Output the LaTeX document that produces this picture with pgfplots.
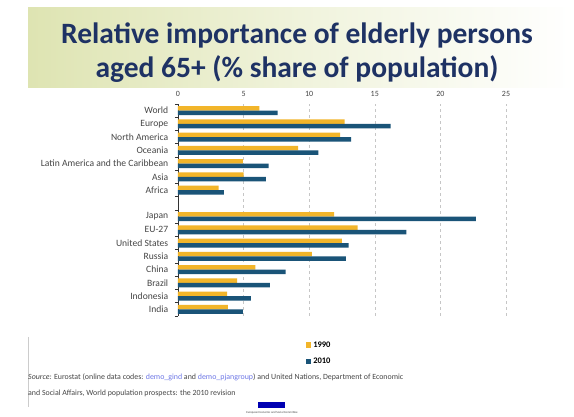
\documentclass[border=0pt]{standalone}
\usepackage{pgfplots}
\pgfplotsset{compat=1.18}
\usepackage{fontspec}
\setmainfont{Carlito}
\definecolor{yel}{RGB}{242,181,42}
\definecolor{blu}{RGB}{26,84,120}
\definecolor{navy}{RGB}{30,50,100}
\definecolor{lab}{RGB}{70,70,70}
\definecolor{lnk}{RGB}{110,120,230}
\begin{document}
\begin{tikzpicture}[x=1pt,y=1pt]
\path[use as bounding box] (0,0) rectangle (574,417);
\fill[white] (0,0) rectangle (574,417);
\shade[left color={rgb,255:red,222;green,228;blue,178}, right color=white, middle color={rgb,255:red,240;green,243;blue,220}] (28,329) rectangle (574,409);
\fill[white] (0,0) rectangle (574,329);
\draw[gray!40] (28,80) -- (28,10);
\node[font=\fontsize{29.5}{34}\selectfont\bfseries, text=navy, align=center] at (297,364) {Relative importance of elderly persons\\aged 65+ (\% share of population)};
\begin{axis}[
  at={(178pt,101pt)}, anchor=south west,
  scale only axis, width=328pt, height=212pt,
  xbar, xmin=0, xmax=25, ymin=0.5, ymax=16.5,
  axis x line*=top, axis y line*=left,
  x axis line style={draw=none},
  y axis line style={draw=black!80, line width=0.8pt},
  xtick={0,5,10,15,20,25},
  /pgf/number format/assume math mode=true,
  xticklabel style={font=\fontsize{8}{8}\selectfont, text=lab},
  major x tick style={draw=none},
  xmajorgrids, grid style={gray!45, dashed, line width=0.5pt},
  ytick={1,2,3,4,5,6,7,8,10,11,12,13,14,15,16},
  yticklabels={India,Indonesia,Brazil,China,Russia,United States,EU-27,Japan,Africa,Asia,Latin America and the Caribbean,Oceania,North America,Europe,World},
  yticklabel style={font=\fontsize{9.6}{10}\selectfont, text=lab, xshift=-2pt},
  major y tick style={draw=none},
  minor ytick={0.5,1.5,...,16.5},
  minor y tick style={draw=black!80, line width=0.6pt},
  minor tick length=3pt, tick align=outside,
  bar width=4.5pt,
  legend style={at={(0.39,-0.11)}, anchor=north west, draw=none, fill=none, font=\fontsize{8.5}{9}\selectfont\bfseries, row sep=5pt, inner sep=0pt},
  legend cell align=left,
  legend image code/.code={\fill[#1] (0pt,-2.6pt) rectangle (5.2pt,2.6pt);},
]
\addplot[draw=none, fill=yel, bar shift=2.3pt] coordinates {
(3.8,1) (3.75,2) (4.5,3) (5.9,4) (10.2,5) (12.5,6) (13.7,7) (11.9,8)
(3.1,10) (5.0,11) (4.95,12) (9.15,13) (12.35,14) (12.7,15) (6.2,16)};
\addlegendentry{1990}
\addplot[draw=none, fill=blu, bar shift=-2.3pt] coordinates {
(4.95,1) (5.55,2) (7.0,3) (8.2,4) (12.8,5) (13.0,6) (17.4,7) (22.7,8)
(3.5,10) (6.7,11) (6.9,12) (10.7,13) (13.2,14) (16.2,15) (7.6,16)};
\addlegendentry{2010}
\end{axis}
\node[anchor=west, inner sep=0pt, font=\fontsize{7.9}{8}\selectfont, text=lab] at (28,40) {\textit{Source:} Eurostat (online data codes: \textcolor{lnk}{demo\_gind} and \textcolor{lnk}{demo\_pjangroup}) and United Nations, Department of Economic};
\node[anchor=west, inner sep=0pt, font=\fontsize{7.9}{8}\selectfont, text=lab] at (28,24) {and Social Affairs, World population prospects: the 2010 revision};
\fill[blue!70!black] (258,9) rectangle (285,15);
\node[font=\fontsize{3}{3}\selectfont, text=lab] at (272,4) {European Economic and Social Committee};
\end{tikzpicture}
\end{document}
